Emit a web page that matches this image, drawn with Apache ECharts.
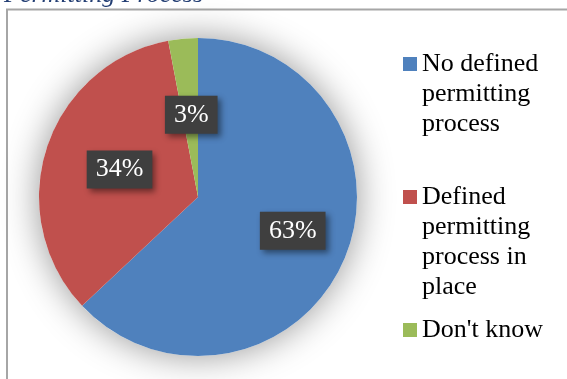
<!DOCTYPE html>
<html>
<head>
<meta charset="utf-8">
<script src="https://cdn.jsdelivr.net/npm/echarts@6/dist/echarts.min.js"></script>
<style>
  html, body { margin: 0; padding: 0; background: #fff; }
  #chart { width: 567px; height: 379px; }
</style>
</head>
<body>
<div id="chart"></div>
<script>
// Survey shares for the permitting-process question
const categories = ['No defined permitting process', 'Defined permitting process in place', "Don't know"];
const legendText = ['No defined\npermitting\nprocess', 'Defined\npermitting\nprocess in\nplace', "Don't know"];
const values = [63, 34, 3];
const colors = ['#4F81BD', '#C0504D', '#9BBB59'];
// fine tuning of the value boxes relative to their slice centre
const labelOffsets = [[19, 1], [0, -2], [1, 0]];

const serif = "'Liberation Serif', 'Times New Roman', serif";
const center = [198, 197];
const radius = 159;
const lineH = 30;

const chart = echarts.init(document.getElementById('chart'), null, { renderer: 'canvas' });

// one legend block per category so each keeps its own vertical spot;
// blank lines above the name keep the first line level with the swatch
const legendIconCenters = [64, 197, 330];
const legends = categories.map((name, i) => {
  const lines = legendText[i].split('\n').length;
  const shown = '\n'.repeat(lines - 1) + legendText[i];
  const boxH = (2 * lines - 1) * lineH;
  return {
    data: [name],
    orient: 'vertical',
    left: 403,
    top: legendIconCenters[i] - boxH / 2,
    padding: 0,
    itemWidth: 14,
    itemHeight: 14,
    icon: 'rect',
    selectedMode: false,
    formatter: () => shown,
    textStyle: {
      fontFamily: serif,
      fontSize: 26,
      color: '#000',
      lineHeight: lineH
    }
  };
});

const option = {
  animation: false,
  title: {
    text: 'Permitting Process',
    left: 4,
    top: -18,
    padding: 0,
    textStyle: {
      fontFamily: serif,
      fontSize: 26,
      fontStyle: 'italic',
      fontWeight: 'normal',
      color: '#243F74'
    }
  },
  graphic: [{
    type: 'rect',
    shape: { x: 7, y: 9.5, width: 600, height: 400 },
    style: { fill: 'none', stroke: '#A6A6A6', lineWidth: 2 },
    z: -10,
    silent: true
  }],
  legend: legends,
  series: [
    {
      // soft drop shadow behind the whole pie
      type: 'pie',
      center: center,
      radius: radius,
      silent: true,
      z: 1,
      label: { show: false },
      labelLine: { show: false },
      itemStyle: {
        color: '#ffffff',
        shadowBlur: 36,
        shadowColor: 'rgba(0,0,0,0.42)'
      },
      data: [{ value: 1, name: '' }]
    },
    {
      type: 'pie',
      center: center,
      radius: radius,
      startAngle: 90,
      clockwise: true,
      z: 2,
      avoidLabelOverlap: false,
      labelLine: { show: false },
      label: {
        show: true,
        position: 'inside',
        formatter: '{c}%',
        fontFamily: serif,
        fontSize: 26,
        color: '#ffffff',
        lineHeight: 26,
        backgroundColor: '#3F3F3F',
        padding: [6, 9, 6, 9],
        shadowBlur: 6,
        shadowOffsetX: 3,
        shadowOffsetY: 3,
        shadowColor: 'rgba(0,0,0,0.45)'
      },
      data: categories.map((name, i) => ({
        name: name,
        value: values[i],
        itemStyle: { color: colors[i] },
        label: { offset: labelOffsets[i] }
      }))
    }
  ]
};

chart.setOption(option);
</script>
</body>
</html>
